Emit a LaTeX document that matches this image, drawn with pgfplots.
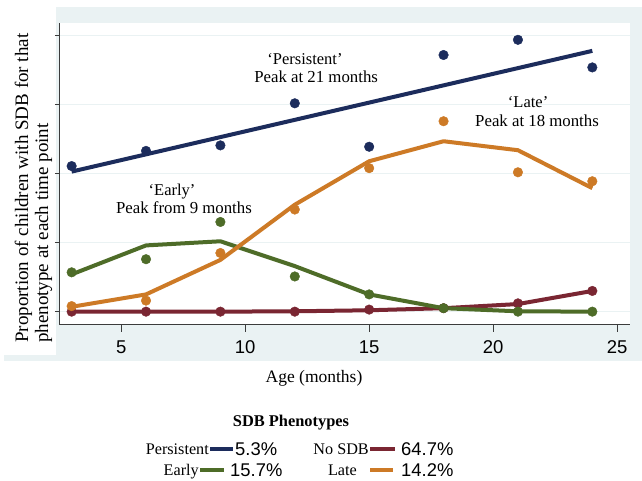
\documentclass[border=0pt]{standalone}
\usepackage{fontspec}
\setmainfont{Liberation Serif}
\newfontfamily\sansf{Liberation Sans}
\usepackage{pgfplots}
\pgfplotsset{compat=1.18}
\definecolor{bgc}{RGB}{234,242,243}
\definecolor{cnavy}{RGB}{28,44,92}
\definecolor{corange}{RGB}{205,122,38}
\definecolor{cgreen}{RGB}{78,108,40}
\definecolor{cmaroon}{RGB}{122,38,50}
\definecolor{axc}{RGB}{60,60,60}
\newcommand{\fs}[1]{\fontsize{#1}{#1}\selectfont}
\begin{document}
\begin{tikzpicture}[x=1pt,y=1pt]
\fill[white] (0,0) rectangle (642,481);
\fill[bgc] (56,120) rectangle (642,474);
\fill[bgc] (4,120) rectangle (56,126);
\fill[white] (59,157) rectangle (630,458);
\begin{axis}[
  at={(59pt,157pt)}, anchor=south west,
  width=571pt, height=301pt, scale only axis,
  xmin=2.49, xmax=25.52, ymin=-0.179, ymax=4.184,
  axis x line*=bottom, axis y line*=left,
  axis line style={-, draw=axc, line width=0.9pt},
  xtick={5,10,15,20,25}, ytick={0,1,2,3,4}, yticklabels={},
  tick align=outside,
  xtick style={draw=axc, line width=0.9pt, /pgfplots/major tick length=8pt},
  ytick style={draw=axc, line width=0.9pt, /pgfplots/major tick length=4pt},
  /pgf/number format/assume math mode=true,
  xticklabel style={font=\sansf\fs{18.5}, yshift=-9pt},
  ymajorgrids, grid style={bgc, line width=1.2pt},
  clip=false,
]
% No SDB
\addplot[cmaroon, line width=4pt, line join=round] coordinates {(3,0) (6,0) (9,0) (12,0.005) (15,0.02) (18,0.05) (21,0.11) (24,0.30)};
\addplot[only marks, mark=*, mark size=4.8pt, cmaroon, mark options={draw=cmaroon, fill=cmaroon}] coordinates {(3,0) (6,0) (9,0) (12,0) (15,0.03) (18,0.05) (21,0.12) (24,0.30)};
% Early
\addplot[cgreen, line width=4pt, line join=round] coordinates {(3,0.54) (6,0.96) (9,1.02) (12,0.66) (15,0.25) (18,0.05) (21,0.005) (24,0)};
\addplot[only marks, mark=*, mark size=4.8pt, cgreen, mark options={draw=cgreen, fill=cgreen}] coordinates {(3,0.57) (6,0.76) (9,1.30) (12,0.51) (15,0.25) (18,0.05) (21,0) (24,0)};
% Late
\addplot[corange, line width=4pt, line join=round] coordinates {(3,0.07) (6,0.25) (9,0.75) (12,1.55) (15,2.18) (18,2.47) (21,2.34) (24,1.79)};
\addplot[only marks, mark=*, mark size=4.8pt, corange, mark options={draw=corange, fill=corange}] coordinates {(3,0.08) (6,0.16) (9,0.85) (12,1.48) (15,2.08) (18,2.76) (21,2.02) (24,1.89)};
% Persistent
\addplot[cnavy, line width=4pt, line join=round] coordinates {(3,2.03) (6,2.28) (9,2.53) (12,2.78) (15,3.03) (18,3.28) (21,3.53) (24,3.78)};
\addplot[only marks, mark=*, mark size=4.8pt, cnavy, mark options={draw=cnavy, fill=cnavy}] coordinates {(3,2.11) (6,2.33) (9,2.41) (12,3.02) (15,2.39) (18,3.72) (21,3.94) (24,3.54)};
% annotations
\node[font=\fs{16.5}] at (axis cs:12.41,3.66) {‘Persistent’};
\node[font=\fs{16.8}] at (axis cs:12.86,3.40) {Peak at 21 months};
\node[font=\fs{16.5}] at (axis cs:21.41,3.04) {‘Late’};
\node[font=\fs{16.8}] at (axis cs:21.77,2.76) {Peak at 18 months};
\node[font=\fs{16.5}] at (axis cs:7.05,1.74) {‘Early’};
\node[font=\fs{16.8}] at (axis cs:7.53,1.50) {Peak from 9 months};
\end{axis}
% y label
\node[rotate=90, anchor=base west, font=\fs{19}, inner sep=0pt] at (28,138) {Proportion of children with SDB for that};
\node[rotate=90, anchor=base west, font=\fs{19}, inner sep=0pt] at (48,138) {phenotype at each time point};
% x label
\node[font=\fs{17.5}] at (314,103) {Age (months)};
% legend
\node[font=\bfseries\fs{16.4}, anchor=base, inner sep=0pt] at (291,54.6) {SDB Phenotypes};
\node[font=\fs{16.2}, anchor=base east, inner sep=0pt] at (209,26.7) {Persistent};
\draw[cnavy, line width=4pt] (210,32) -- (233,32);
\node[font=\sansf\fs{18.4}, anchor=base west, inner sep=0pt] at (235,25.4) {5.3\%};
\node[font=\fs{16.2}, anchor=base east, inner sep=0pt] at (369,26.7) {No SDB};
\draw[cmaroon, line width=4pt] (370,32) -- (395,32);
\node[font=\sansf\fs{18.4}, anchor=base west, inner sep=0pt] at (401,25.4) {64.7\%};
\node[font=\fs{16.2}, anchor=base east, inner sep=0pt] at (199,5.7) {Early};
\draw[cgreen, line width=4pt] (200,11) -- (224,11);
\node[font=\sansf\fs{18.4}, anchor=base west, inner sep=0pt] at (230,4.4) {15.7\%};
\node[font=\fs{16.2}, anchor=base east, inner sep=0pt] at (357,5.7) {Late};
\draw[corange, line width=4pt] (370,11) -- (393,11);
\node[font=\sansf\fs{18.4}, anchor=base west, inner sep=0pt] at (401,4.4) {14.2\%};
\end{tikzpicture}
\end{document}
